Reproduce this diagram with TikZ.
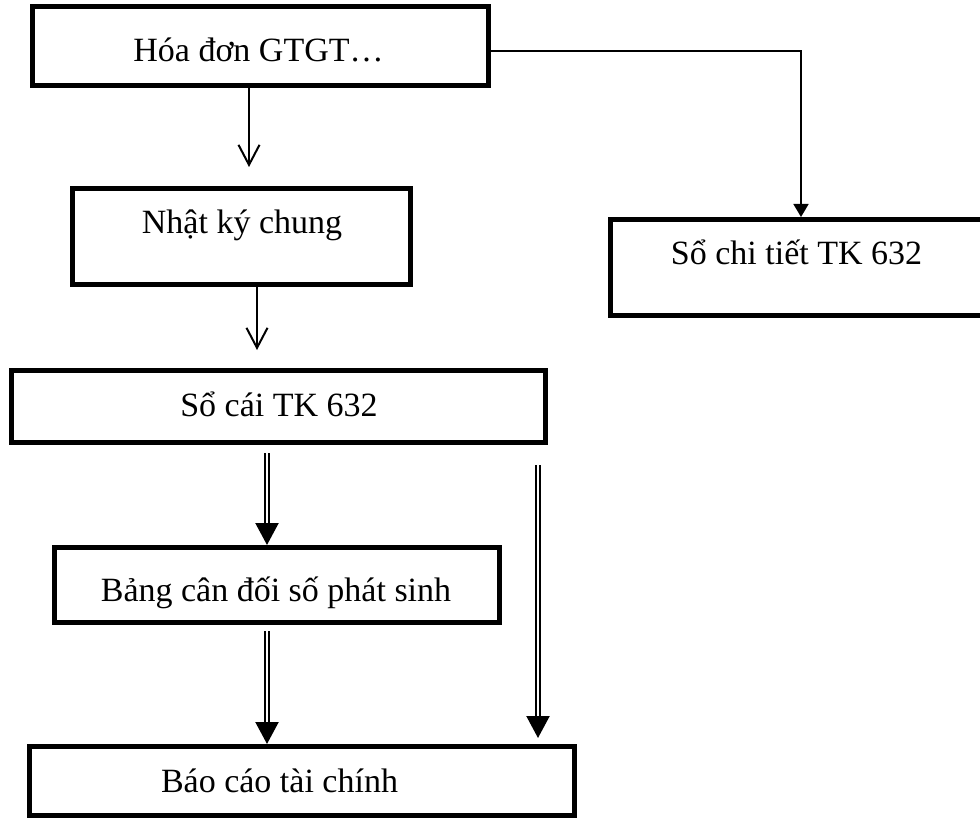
\documentclass[tikz,border=0pt]{standalone}
\usepackage{fontspec}
\setmainfont{Liberation Serif}
\usetikzlibrary{arrows.meta}
\tikzset{
  box/.style={draw, line width=5pt, inner sep=0pt},
  lbl/.style={anchor=base, inner sep=0pt, font=\fontsize{34}{40}\selectfont},
  openarr/.style={line width=2pt, -{Straight Barb[length=20pt,width=21pt,line width=2pt]}},
  hookarr/.style={line width=1.7pt, -{Triangle[length=13pt,width=15pt]}},
  dblarr/.style={double, line width=2.2pt, double distance=2.2pt, -{Triangle[length=22pt,width=23pt]}}
}
\begin{document}
\begin{tikzpicture}[x=1pt,y=-1pt]
\useasboundingbox (0,0) rectangle (980,818);
% boxes
\node[box, minimum width=456pt, minimum height=79pt] (b1) at (260.5,46) {};
\node[box, minimum width=338pt, minimum height=96pt] (b2) at (241.5,236.5) {};
\node[box, minimum width=534pt, minimum height=72pt] (b3) at (278.5,406.5) {};
\node[box, minimum width=445pt, minimum height=75pt] (b4) at (277,585) {};
\node[box, minimum width=545pt, minimum height=69pt] (b5) at (302,781) {};
\node[box, minimum width=372pt, minimum height=96pt] (b6) at (796.5,267.5) {};
% texts
\node[lbl] (t1) at (258.5,62) {Hóa đơn GTGT…};
\node[lbl] (t2) at (242,234) {Nhật ký chung};
\node[lbl] (t3) at (279,416) {Sổ cái TK 632};
\node[lbl] (t4) at (276,601) {Bảng cân đối số phát sinh};
\node[lbl] (t5) at (279.5,792) {Báo cáo tài chính};
\node[lbl] (t6) at (796.5,265) {Sổ chi tiết TK 632};
% coordinates
\coordinate (a1s) at (249,88);
\coordinate (a1e) at (249,167);
\coordinate (a2s) at (257,287);
\coordinate (a2e) at (257,350);
\coordinate (hk) at (801,51);
\coordinate (d1s) at (267,453);
\coordinate (d2s) at (267,631);
\coordinate (d3s) at (538,465);
\coordinate (d3e) at (538,738);
% connectors
\draw[openarr] (b1.south -| a1s) -- (a1e);
\draw[openarr] (b2.south -| a2s) -- (a2e);
\draw[hookarr] (b1.east |- hk) -- (hk) -- (hk |- b6.north);
\draw[dblarr] (d1s) -- (d1s |- b4.north);
\draw[dblarr] (d2s) -- (d2s |- b5.north);
\draw[dblarr] (d3s) -- (d3e);
\end{tikzpicture}
\end{document}
